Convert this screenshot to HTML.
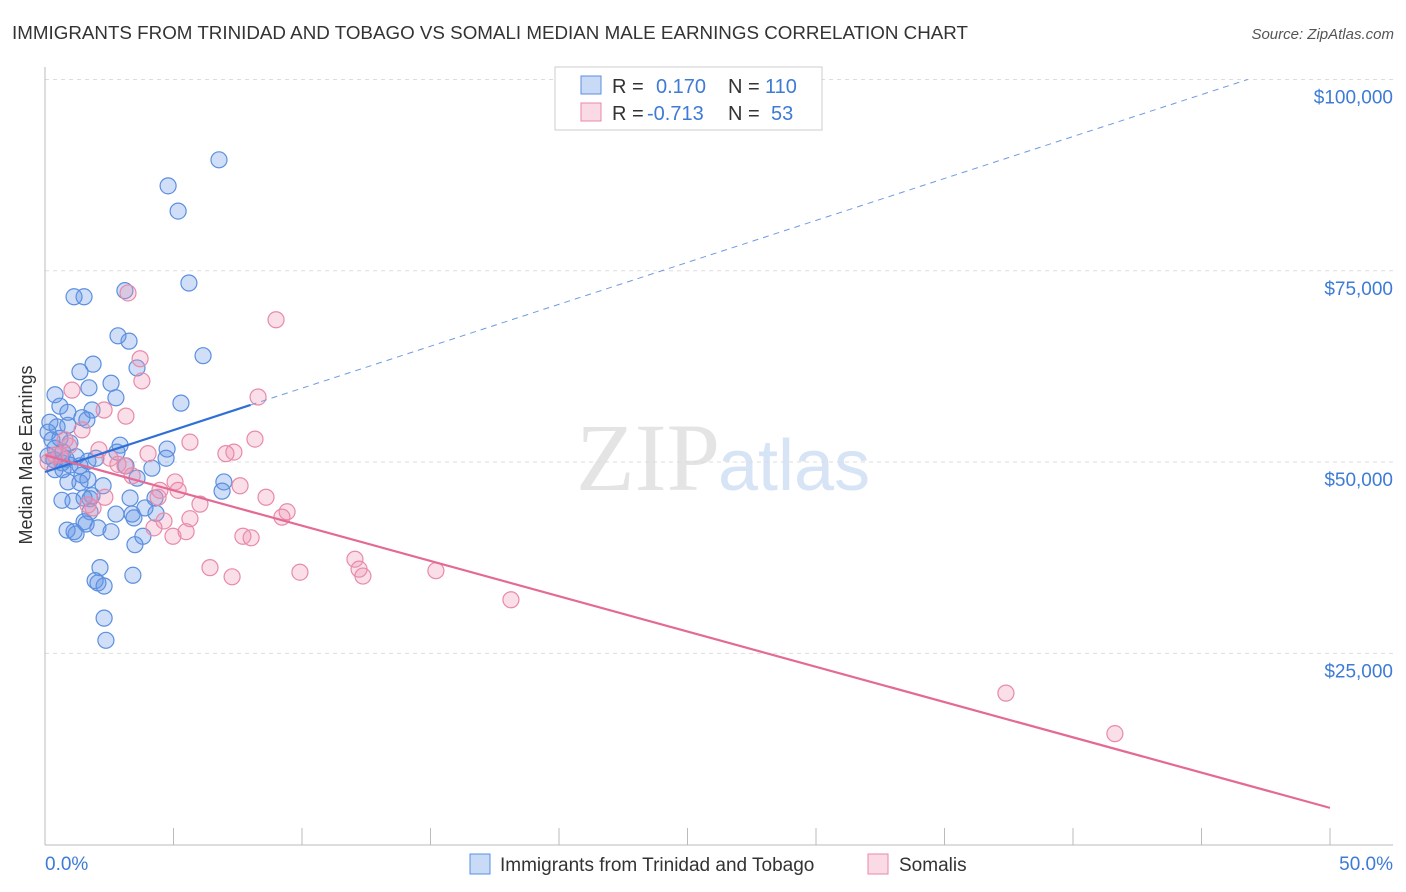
<!DOCTYPE html>
<html><head><meta charset="utf-8">
<style>
body{margin:0;background:#fff;font-family:"Liberation Sans",sans-serif;}
svg{display:block}
</style></head><body>
<svg id="chart" width="1406" height="892">
<text x="12" y="39" font-size="18" fill="#333" textLength="956" lengthAdjust="spacingAndGlyphs">IMMIGRANTS FROM TRINIDAD AND TOBAGO VS SOMALI MEDIAN MALE EARNINGS CORRELATION CHART</text>
<text x="1394" y="39" font-size="15" fill="#555" text-anchor="end" font-style="italic">Source: ZipAtlas.com</text>
<text x="720" y="490" font-size="96" fill="#e4e4e4" text-anchor="end" font-family="Liberation Serif">ZIP</text>
<text x="718" y="490" font-size="72" fill="#d6e4f5">atlas</text>
<g id="grid"></g>
<g id="axes"></g>
<g id="pts"></g>
<g id="trends"></g>
<text x="32" y="455" font-size="18" fill="#333" text-anchor="middle" transform="rotate(-90 32 455)">Median Male Earnings</text>
<g>
<rect x="555" y="67" width="267" height="63" fill="#fff" stroke="#ccc"/>
<rect x="581" y="76" width="20" height="18" fill="rgba(100,150,230,0.35)" stroke="#5b8fe0"/>
<rect x="581" y="103" width="20" height="18" fill="rgba(240,150,180,0.35)" stroke="#e88aaa"/>
<text x="612" y="93" font-size="20" fill="#333">R = </text><text x="656" y="93" font-size="20" fill="#3d7bd6">0.170</text>
<text x="728" y="93" font-size="20" fill="#333">N = </text><text x="765" y="93" font-size="20" fill="#3d7bd6">110</text>
<text x="612" y="120" font-size="20" fill="#333">R = </text><text x="647" y="120" font-size="20" fill="#3d7bd6">-0.713</text>
<text x="728" y="120" font-size="20" fill="#333">N = </text><text x="771" y="120" font-size="20" fill="#3d7bd6">53</text>
</g>
<g>
<rect x="470" y="854" width="20" height="20" fill="rgba(100,150,230,0.35)" stroke="#5b8fe0"/>
<text x="500" y="871" font-size="19" fill="#333">Immigrants from Trinidad and Tobago</text>
<rect x="868" y="854" width="20" height="20" fill="rgba(240,150,180,0.35)" stroke="#e88aaa"/>
<text x="899" y="871" font-size="19" fill="#333">Somalis</text>
</g>
</svg>
<script>
const blueX=[6.77,4.79,5.18,5.60,1.13,1.52,3.11,6.15,2.84,3.27,1.87,1.36,3.58,2.57,1.71,5.29,0.39,2.76,0.58,1.83,0.89,1.44,0.19,0.47,0.89,1.63,0.12,0.27,0.58,0.97,0.39,0.70,0.12,0.35,0.82,1.21,1.67,2.92,2.80,4.75,4.71,1.98,0.97,1.36,0.66,3.15,4.16,1.44,1.67,1.36,0.89,2.26,6.96,6.89,3.58,3.31,1.83,1.75,1.52,3.89,4.28,0.66,1.09,1.75,3.39,2.76,3.46,4.32,1.52,1.60,2.06,0.86,1.21,1.13,2.57,3.81,3.50,2.14,1.95,2.06,2.30,3.42,2.30,2.37,0.70,0.39];
const blueY=[89500,86100,82800,73400,71600,71600,72400,63900,66500,65800,62800,61800,62300,60300,59700,57700,58800,58400,57300,56800,56500,55800,55200,54600,54800,55500,53900,52900,53100,52500,51800,51300,50800,50300,50400,50700,50100,52200,51300,51700,50500,50500,49600,49500,49900,49500,49200,48300,47700,47300,47400,46900,47400,46200,47900,45300,45600,45200,45300,44000,45300,45000,44900,43500,43200,43200,42700,43300,42200,41900,41400,41100,40600,40900,40900,40300,39200,36200,34500,34200,33800,35200,29600,26700,49000,49000];
const pinkX=[3.23,8.99,3.70,3.77,1.05,8.29,2.30,3.15,1.44,8.17,5.64,0.93,2.10,7.35,7.04,2.53,0.12,0.58,4.01,3.11,2.84,3.39,7.59,5.06,5.18,2.33,4.40,6.03,8.60,9.42,1.87,9.22,5.64,4.63,4.24,4.98,5.49,7.70,8.02,6.42,7.28,9.92,12.06,12.22,12.37,15.21,18.13,37.39,41.63,0.39,0.78,1.67,4.47];
const pinkY=[72100,68600,63500,60600,59400,58500,56800,56000,54200,53000,52600,52100,51600,51300,51100,50500,50000,50900,51100,49500,49700,48200,46900,47400,46300,45400,45400,44500,45400,43500,44000,42800,42600,42300,41400,40300,40900,40300,40100,36200,35000,35600,37300,36000,35100,35800,32000,19800,14500,50900,52900,44400,46300];
const blueTrendX=[0,8,46.8];const blueTrendY=[48700,57460,100000];
const pinkTrendX=[0,50];const pinkTrendY=[50900,4800];
const yTicks=[25000,50000,75000,100000];
const yTickLabels=["$25,000","$50,000","$75,000","$100,000"];
const xTicks=[0,5,10,15,20,25,30,35,40,45,50];

const NS="http://www.w3.org/2000/svg";
const sx=v=>45+v*25.7;
const sy=v=>844.6-v/130.7;
function mk(tag,attrs,parent){const e=document.createElementNS(NS,tag);for(const k in attrs)e.setAttribute(k,attrs[k]);document.getElementById(parent).appendChild(e);return e;}
yTicks.forEach((t,i)=>{
 const l=mk('line',{x1:45,x2:1393,y1:sy(t),y2:sy(t),stroke:'#ddd','stroke-dasharray':'4,4'},'grid');
 
 
 const tx=mk('text',{x:1393,y:sy(t)+24,'font-size':19,fill:'#3d7bd6','text-anchor':'end'},'axes');
 tx.textContent=yTickLabels[i];
 
 
});
const yl=mk('line',{x1:45,x2:45,y1:67,y2:845,stroke:'#bbb'},'axes');


const xl=mk('line',{x1:45,x2:1393,y1:845,y2:845,stroke:'#bbb'},'axes');


xTicks.forEach(t=>{
 const l=mk('line',{x1:sx(t),x2:sx(t),y1:828,y2:845,stroke:'#bbb'},'axes');
 
 
});
const xa=mk('text',{x:45,y:870,'font-size':19,fill:'#3d7bd6'},'axes');xa.textContent='0.0%';


const xb=mk('text',{x:1393,y:870,'font-size':19,fill:'#3d7bd6','text-anchor':'end'},'axes');xb.textContent='50.0%';


blueX.forEach((x,i)=>{
 const c=mk('circle',{cx:sx(x),cy:sy(blueY[i]),r:8,fill:'rgba(100,150,230,0.3)',stroke:'#5b8fe0','stroke-width':1.2},'pts');
 
 
});
pinkX.forEach((x,i)=>{
 const c=mk('circle',{cx:sx(x),cy:sy(pinkY[i]),r:8,fill:'rgba(240,150,180,0.3)',stroke:'#e88aaa','stroke-width':1.2},'pts');
 
 
});
const b1=mk('line',{x1:sx(blueTrendX[0]),y1:sy(blueTrendY[0]),x2:sx(blueTrendX[1]),y2:sy(blueTrendY[1]),stroke:'#2f6fd6','stroke-width':2.2},'trends');


const b2=mk('line',{x1:sx(blueTrendX[1]),y1:sy(blueTrendY[1]),x2:sx(blueTrendX[2]),y2:sy(blueTrendY[2]),stroke:'#6f9be0','stroke-width':1,'stroke-dasharray':'6,5'},'trends');


const p1=mk('line',{x1:sx(pinkTrendX[0]),y1:sy(pinkTrendY[0]),x2:sx(pinkTrendX[1]),y2:sy(pinkTrendY[1]),stroke:'#e46a96','stroke-width':2.2},'trends');


</script>
</body></html>
